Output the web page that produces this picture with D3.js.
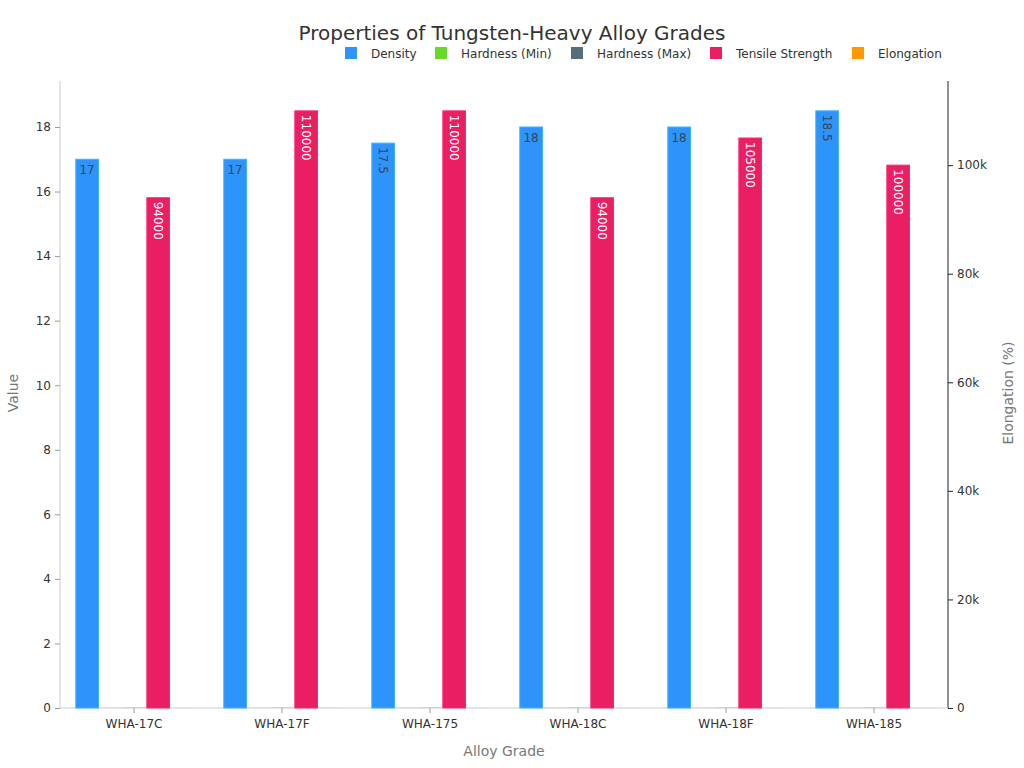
<!DOCTYPE html>
<html><head><meta charset="utf-8">
<script src="https://cdn.jsdelivr.net/npm/d3@7"></script>
<style>body{margin:0;background:#fff;font-family:"DejaVu Sans",sans-serif;}</style>
</head><body><svg id="c" width="1024" height="768"></svg>
<script>
const categories = ["WHA-17C","WHA-17F","WHA-175","WHA-18C","WHA-18F","WHA-185"];
const density = [17, 17, 17.5, 18, 18, 18.5];
const hardnessMin = [24, 24, 25, 26, 26, 27];
const hardnessMax = [30, 30, 31, 32, 32, 33];
const tensile = [94000, 110000, 110000, 94000, 105000, 100000];
const elongation = [10, 20, 15, 8, 15, 10];
const seriesNames = ["Density","Hardness (Min)","Hardness (Max)","Tensile Strength","Elongation"];
const colors = ["#2E93FA","#66DA26","#546E7A","#E91E63","#FF9800"];
const leftTicks = [0,2,4,6,8,10,12,14,16,18];
const rightTicks = [0,20000,40000,60000,80000,100000];

const series = [
  {name:seriesNames[0], values:density, axis:"left"},
  {name:seriesNames[1], values:hardnessMin, axis:"right"},
  {name:seriesNames[2], values:hardnessMax, axis:"right"},
  {name:seriesNames[3], values:tensile, axis:"right"},
  {name:seriesNames[4], values:elongation, axis:"right"}
];

const svg = d3.select("#c");
const m = {l:60, r:948, t:81, b:708};
const x = d3.scaleBand().domain(categories).range([m.l, m.r]).padding(0);
const yL = d3.scaleLinear().domain([0, d3.max(density)*1.05]).range([m.b, m.t]);
const yR = d3.scaleLinear().domain([0, d3.max(tensile)*1.05]).range([m.b, m.t]);
const groupW = x.bandwidth()*0.8;
const xs = d3.scaleBand().domain(d3.range(series.length)).range([0, groupW]).padding(0);

// title
svg.append("text").attr("x",512).attr("y",40).attr("text-anchor","middle")
  .attr("font-size",20).attr("fill","#333").text("Properties of Tungsten-Heavy Alloy Grades");

// legend
const legX = [345, 435, 571, 710, 852];
series.forEach((s,i)=>{
  const g = svg.append("g").attr("transform",`translate(${legX[i]},47)`);
  g.append("rect").attr("width",12).attr("height",12).attr("fill",colors[i]);
  g.append("text").attr("x",26).attr("y",11).attr("font-size",12).attr("fill","#333").text(s.name);
});

// left axis
const gl = svg.append("g").attr("transform",`translate(${m.l},0)`)
  .call(d3.axisLeft(yL).tickValues(leftTicks).tickSize(5).tickPadding(4));
gl.select(".domain").attr("stroke","#ccc").attr("d",`M0,${m.t}V${m.b}`);
gl.selectAll(".tick line").attr("stroke","#999");
gl.selectAll(".tick text").attr("font-size",12).attr("fill","#333").attr("font-family","DejaVu Sans");

// right axis
const gr = svg.append("g").attr("transform",`translate(${m.r},0)`)
  .call(d3.axisRight(yR).tickValues(rightTicks).tickFormat(d3.format("~s")).tickSize(5).tickPadding(4));
gr.select(".domain").attr("stroke","#222").attr("d",`M0,${m.t}V${m.b}`);
gr.selectAll(".tick line").attr("stroke","#222");
gr.selectAll(".tick text").attr("font-size",12).attr("fill","#333").attr("font-family","DejaVu Sans");

// bottom axis
const gb = svg.append("g").attr("transform",`translate(0,${m.b})`)
  .call(d3.axisBottom(x).tickSize(5).tickPadding(6));
gb.select(".domain").attr("stroke","#ccc").attr("d",`M${m.l},0H${m.r}`);
gb.selectAll(".tick line").attr("stroke","#999");
gb.selectAll(".tick text").attr("font-size",12).attr("fill","#333").attr("font-family","DejaVu Sans");

// axis titles
svg.append("text").attr("transform","translate(18,393) rotate(-90)").attr("text-anchor","middle")
  .attr("font-size",14).attr("fill","#777").text("Value");
svg.append("text").attr("x",504).attr("y",756).attr("text-anchor","middle")
  .attr("font-size",14).attr("fill","#777").text("Alloy Grade");
svg.append("text").attr("transform","translate(1013,393) rotate(-90)").attr("text-anchor","middle")
  .attr("font-size",14).attr("fill","#777").text("Elongation (%)");

// bars
series.forEach((s,si)=>{
  const y = s.axis==="left"?yL:yR;
  const g = svg.append("g");
  categories.forEach((c,ci)=>{
    const v = s.values[ci];
    const bx = x(c) + (x.bandwidth()-groupW)/2 + xs(si) + 1;
    const bw = xs.bandwidth() - 1;
    const top = y(v);
    const h = Math.max(0,m.b-top);
    const r = g.append("rect").attr("x",bx).attr("y",top).attr("width",bw).attr("height",h)
      .attr("fill",colors[si]);
    if (h > 2) r.attr("stroke",d3.color(colors[si]).brighter(0.6)).attr("stroke-width",1);
    if (si===0 || si===3) {
      const label = String(v);
      const fill = si===0 ? "#37474F" : "#fff";
      const cx = bx + bw/2;
      const tw = label.length*7.7;
      if (tw < bw - 2) {
        g.append("text").attr("x",cx).attr("y",top+15).attr("text-anchor","middle")
          .attr("font-size",12).attr("fill",fill).text(label);
      } else {
        g.append("text").attr("transform",`translate(${cx-4},${top+4}) rotate(90)`)
          .attr("text-anchor","start").attr("font-size",12).attr("fill",fill).text(label);
      }
    }
  });
});
</script></body></html>
